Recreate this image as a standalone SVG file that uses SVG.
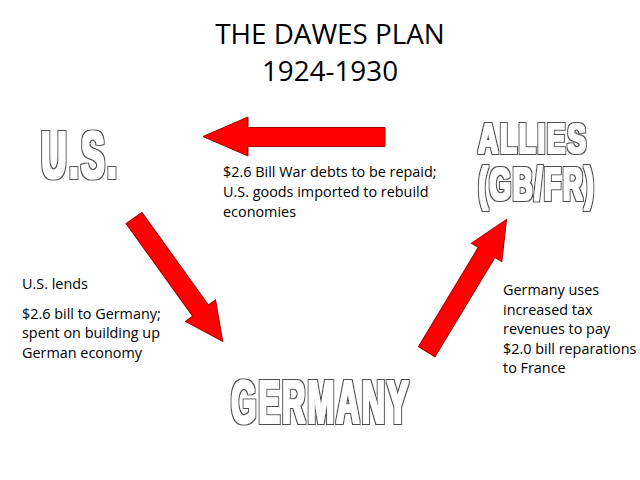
<svg xmlns="http://www.w3.org/2000/svg" width="640" height="480" viewBox="0 0 640 480">
<style>
.t{font-family:"Open Sans","Liberation Sans",sans-serif;font-size:14.4px;fill:#000}
.title{font-family:"Open Sans","Liberation Sans",sans-serif;font-size:27.8px;fill:#000;text-anchor:middle}
.big{font-family:"Liberation Sans",sans-serif;font-weight:bold;fill:#000;text-anchor:middle}
.out{filter:url(#outline)}
.arrow{fill:#f00;stroke:#a00000;stroke-width:1}
</style>
<defs>
<filter id="outline" x="-10%" y="-20%" width="120%" height="140%">
<feMorphology in="SourceAlpha" operator="dilate" radius="1.7" result="outer"/>
<feMorphology in="SourceAlpha" operator="dilate" radius="0.7" result="inner"/>
<feFlood flood-color="#505050" result="c"/>
<feComposite in="c" in2="outer" operator="in" result="o"/>
<feFlood flood-color="#ffffff" result="w"/>
<feComposite in="w" in2="inner" operator="in" result="i"/>
<feMerge><feMergeNode in="o"/><feMergeNode in="i"/></feMerge>
</filter>
</defs>
<rect width="640" height="480" fill="#fff"/>
<g id="title">
<text class="title" x="330" y="44">THE DAWES PLAN</text>
<text class="title" x="330" y="81">1924-1930</text>
</g>
<g id="us" class="out">
<text class="big" transform="translate(80,178) scale(0.54,1)" font-size="66" letter-spacing="4">U.S.</text>
</g>
<g id="allies" class="out">
<text class="big" transform="translate(533,153) scale(0.64,1)" font-size="43" letter-spacing="3">ALLIES</text>
<text class="big" transform="translate(537,200) scale(0.6,1)" font-size="46" letter-spacing="3">(GB/FR)</text>
</g>
<g id="germany" class="out">
<text class="big" transform="translate(321,423) scale(0.52,1)" font-size="62" letter-spacing="4">GERMANY</text>
</g>
<g id="connectors">
<polygon class="arrow" points="385,127.5 248,127.5 248,117 203,136.5 248,156 248,146.5 385,146.5"/>
<polygon class="arrow" transform="translate(134,218) rotate(54.3)" points="0,-9.7 114,-9.7 114,-18.5 152,0 114,18.5 114,9.7 0,9.7"/>
<polygon class="arrow" transform="translate(426.7,351.7) rotate(-58.9)" points="0,-9.7 116,-9.7 116,-17.8 154.5,0 116,17.8 116,9.7 0,9.7"/>
</g>
<g id="labels">
<text class="t" x="223" y="177">$2.6 Bill War debts to be repaid;</text>
<text class="t" x="223" y="197">U.S. goods imported to rebuild</text>
<text class="t" x="223" y="217">economies</text>
<text class="t" x="22" y="289">U.S. lends</text>
<text class="t" x="22" y="319">$2.6 bill to Germany;</text>
<text class="t" x="22" y="338">spent on building up</text>
<text class="t" x="22" y="358">German economy</text>
<text class="t" x="503" y="295">Germany uses</text>
<text class="t" x="503" y="315">increased tax</text>
<text class="t" x="503" y="334">revenues to pay</text>
<text class="t" x="503" y="354">$2.0 bill reparations</text>
<text class="t" x="503" y="373">to France</text>
</g>
</svg>
